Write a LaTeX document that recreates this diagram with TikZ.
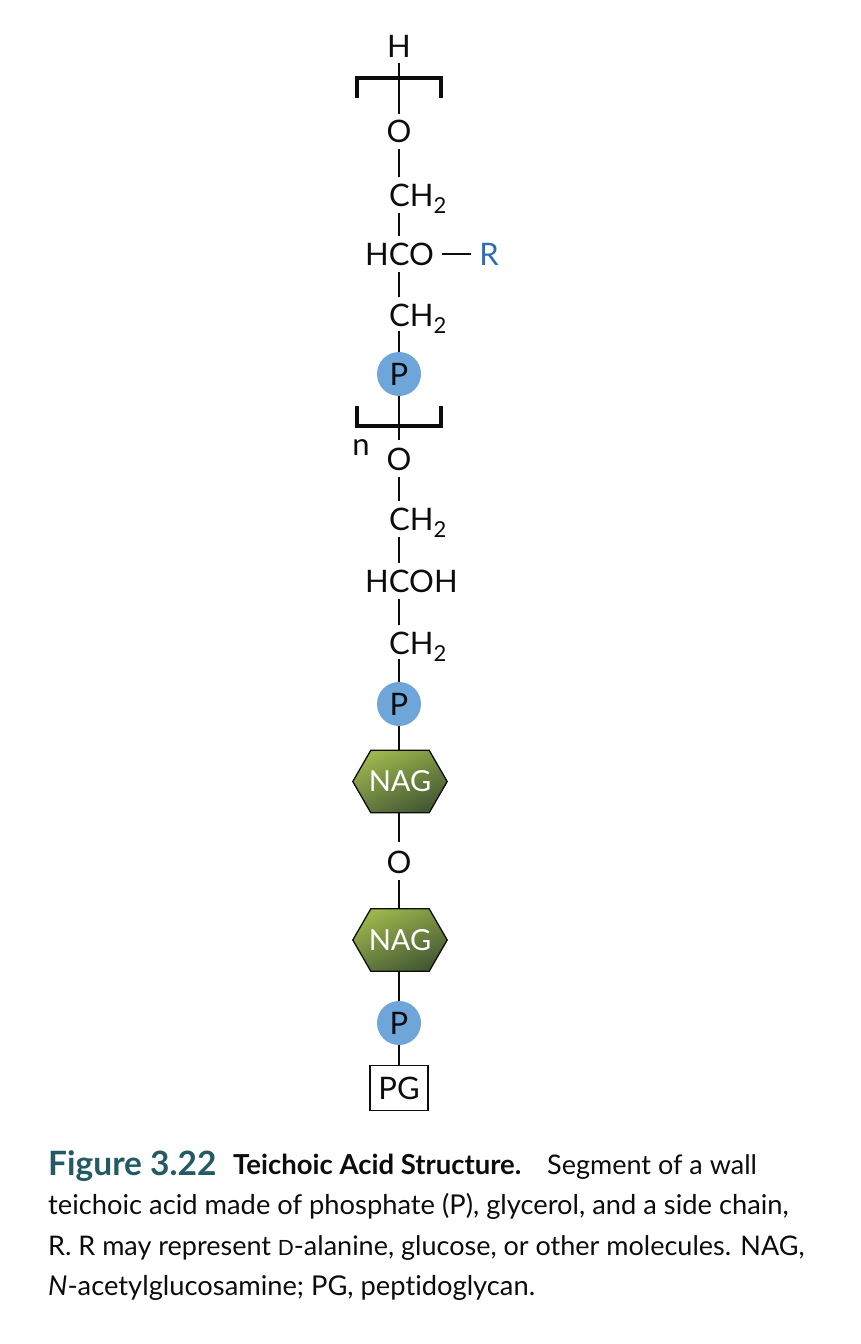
\documentclass[tikz,border=0pt]{standalone}
\usepackage{fontspec}
\setmainfont[Ligatures=NoCommon]{Lato}
\usetikzlibrary{backgrounds}
\definecolor{pblue}{RGB}{110,166,217}
\definecolor{rblue}{RGB}{46,109,180}
\definecolor{teal}{RGB}{36,90,100}
\definecolor{naglight}{RGB}{156,182,76}
\definecolor{nagdark}{RGB}{68,88,52}
\definecolor{ink}{RGB}{12,12,12}
\tikzset{
  atom/.style={inner sep=0pt,text height=22pt,text depth=0pt,font=\fontsize{31}{31}\selectfont,text=ink},
  sideatom/.style={atom,anchor=west},
  bond/.style={draw=ink,line width=1.5pt,shorten <=#1,shorten >=#1},
  bond/.default=7pt,
  brk/.style={draw=ink,line width=3.8pt,miter limit=10},
  phos/.style={circle,fill=pblue,minimum size=44pt,inner sep=0pt,font=\fontsize{31}{31}\selectfont,text=ink},
  sugar/.style={minimum width=94pt,minimum height=62pt,inner sep=0pt,text=white,font=\fontsize{29}{29}\selectfont},
  hexfill/.style={draw=ink,line width=1.3pt,top color=naglight,bottom color=nagdark,shading angle=25},
  captext/.style={anchor=base west,inner sep=0pt,font=\fontsize{27.3}{27.3}\selectfont,text=ink}
}
\newcommand{\subtwo}{\raisebox{-7pt}{\fontsize{22}{22}\selectfont 2}}
\newcommand{\hexshape}[1]{%
  \begin{scope}[on background layer]
  \path[hexfill] (#1.west) -- ([xshift=18pt]#1.north west) -- ([xshift=-18pt]#1.north east) -- (#1.east)
    -- ([xshift=-18pt]#1.south east) -- ([xshift=18pt]#1.south west) -- cycle;
  \end{scope}}
\begin{document}
\begin{tikzpicture}[x=1pt,y=-1pt]
\useasboundingbox (0,0) rectangle (860,1344);
% axis nodes
\node[atom] (h) at (399,46) {H};
\node[atom] (o1) at (399,131) {O};
\coordinate (c1) at (399,195);
\coordinate (c2) at (399,254);
\coordinate (c3) at (399,315);
\node[phos] (p1) at (399,374) {P};
\node[atom] (o2) at (399,459) {O};
\coordinate (c4) at (399,519);
\coordinate (c5) at (399,581);
\coordinate (c6) at (399,643);
\node[phos] (p2) at (399,704) {P};
\node[sugar] (n1) at (400,781.5) {NAG};
\hexshape{n1}
\node[atom] (o3) at (399,862) {O};
\node[sugar] (n2) at (400,940) {NAG};
\hexshape{n2}
\node[phos] (p3) at (399,1023) {P};
\node[draw=ink,line width=1.6pt,minimum width=58pt,minimum height=45pt,inner sep=0pt,
  font=\fontsize{31}{31}\selectfont,text=ink] (pg) at (399,1088) {PG};
% text on the chain
\node[sideatom] (ch1) at (389,195) {CH\subtwo};
\node[sideatom] (hco) at (365,254) {HCO};
\node[atom,text=rblue] (r) at (489,254) {R};
\node[sideatom] (ch2) at (389,315) {CH\subtwo};
\node[atom] (n) at (361,444) {n};
\node[sideatom] (ch3) at (389,519) {CH\subtwo};
\node[sideatom] (hcoh) at (365,581) {HCOH};
\node[sideatom] (ch4) at (389,643) {CH\subtwo};
% brackets
\coordinate (bt) at (399,78);
\coordinate (bb) at (399,426);
\draw[brk] ([xshift=-41.7pt,yshift=-20pt]bt) -- ([xshift=-41.7pt]bt) -- ([xshift=42pt]bt) -- ([xshift=42pt,yshift=-20pt]bt);
\draw[brk] ([xshift=-41.7pt,yshift=20pt]bb) -- ([xshift=-41.7pt]bb) -- ([xshift=42pt]bb) -- ([xshift=42pt,yshift=20pt]bb);
% bonds
\draw[bond=6pt] (h.south) -- (o1.north);
\draw[bond] (o1.south) -- (c1 |- ch1.north);
\draw[bond] (c1 |- ch1.south) -- (c2 |- hco.north);
\draw[bond] (c2 |- hco.south) -- (c3 |- ch2.north);
\draw[bond=0pt] ([yshift=-5pt]c3 |- ch2.south) -- (p1.north);
\draw[bond=8pt] (hco.east) -- (r.west);
\draw[bond=0pt] (p1.south) -- ([yshift=8pt]o2.north);
\draw[bond] (o2.south) -- (c4 |- ch3.north);
\draw[bond] (c4 |- ch3.south) -- (c5 |- hcoh.north);
\draw[bond] (c5 |- hcoh.south) -- (c6 |- ch4.north);
\draw[bond=0pt] ([yshift=-5pt]c6 |- ch4.south) -- (p2.north);
\draw[bond=0pt] (p2.south) -- (n1.north -| p2.south);
\draw[bond=0pt] (n1.south -| o3) -- ([yshift=9pt]o3.north);
\draw[bond=0pt] ([yshift=-7pt]o3.south) -- (n2.north -| o3);
\draw[bond=0pt] (n2.south -| p3) -- (p3.north);
\draw[bond=0pt] (p3.south) -- (pg.north);
% caption
\node[captext,font=\fontsize{33.5}{33.5}\selectfont\bfseries,text=teal] (f) at (48,1175) {Figure 3.22};
\node[captext,font=\fontsize{27.5}{27.5}\selectfont\bfseries] (t) at (233,1174.5) {Teichoic Acid Structure.};
\node[captext,font=\fontsize{27}{27}\selectfont] (l1) at (547,1174.5) {Segment of a wall};
\node[captext] (l2) at (48,1214.5) {teichoic acid made of phosphate (P), glycerol, and a side chain,};
\node[captext,font=\fontsize{27}{27}\selectfont] (l3) at (48,1255.5) {R. R may represent {\fontsize{21}{21}\selectfont D}-alanine, glucose, or other molecules. NAG,};
\node[captext] (l4) at (48,1295.5) {\textit{N}-acetylglucosamine; PG, peptidoglycan.};
\end{tikzpicture}
\end{document}
